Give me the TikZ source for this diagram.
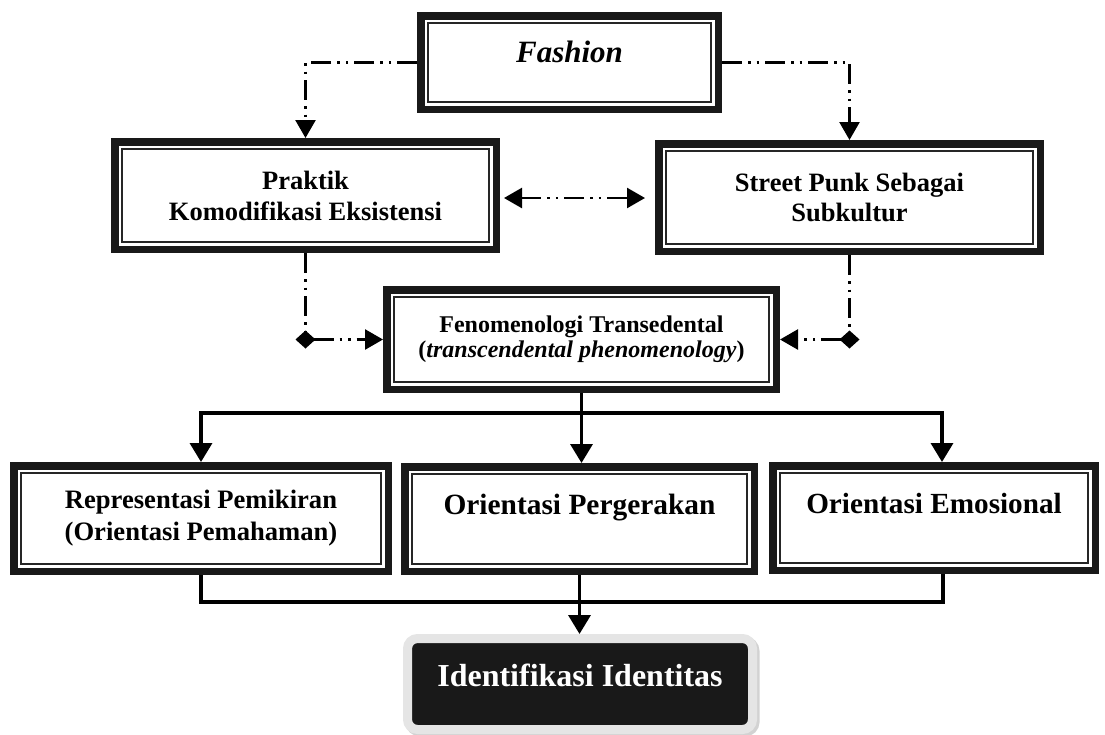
\documentclass[tikz,border=0pt]{standalone}
\usepackage{fontspec}
\setmainfont{Liberation Serif}
\usetikzlibrary{arrows.meta,shadows}

\begin{document}
\begin{tikzpicture}[x=1pt,y=-1pt,
  box/.style={draw=black!90, line width=7.5pt, fill=white, inner sep=2pt, align=center,
    path picture={\draw[line width=2pt,black!85]
      ([shift={(7.25pt,7.25pt)}]path picture bounding box.south west) rectangle
      ([shift={(-7.25pt,-7.25pt)}]path picture bounding box.north east);}},
  dd/.style={line width=2.5pt, dash pattern=on 20pt off 6pt on 2.5pt off 6pt on 2.5pt off 6pt},
  ln/.style={line width=3.5pt},
  ta/.tip={Triangle[width=20pt,length=18pt]},
  tb/.tip={Triangle[width=22pt,length=19pt]},
  dm/.tip={Diamond[width=18pt,length=20pt]}]
\useasboundingbox (0,0) rectangle (1105,734);

\node[box, minimum width=297.5pt, minimum height=93.5pt, text height=21pt, text depth=21pt,
  font=\bfseries\itshape\fontsize{31}{36}\selectfont] (fashion) at (569.5,62.5) {Fashion};
\node[box, minimum width=381.5pt, minimum height=107.5pt,
  font=\bfseries\fontsize{26.5}{31}\selectfont] (praktik) at (305.5,195.5) {Praktik\\Komodifikasi Eksistensi};
\node[box, minimum width=381.5pt, minimum height=107.5pt,
  font=\bfseries\fontsize{26.5}{30}\selectfont] (street) at (849.5,197.5) {Street Punk Sebagai\\Subkultur};
\node[box, minimum width=389.5pt, minimum height=99.5pt,
  font=\bfseries\fontsize{24}{25}\selectfont] (fenom) at (581.5,339.5) {Fenomenologi Transedental\\(\textit{transcendental phenomenology})};
\node[box, minimum width=374.5pt, minimum height=105.5pt,
  font=\bfseries\fontsize{26.6}{32}\selectfont] (repr) at (201,518.5) {Representasi Pemikiran\\(Orientasi Pemahaman)};
\node[box, minimum width=349.5pt, minimum height=104.5pt, text height=20pt, text depth=30pt,
  font=\bfseries\fontsize{29.4}{34}\selectfont] (gerak) at (579.5,519) {Orientasi Pergerakan};
\node[box, minimum width=322.5pt, minimum height=104.5pt, text height=20pt, text depth=30pt,
  font=\bfseries\fontsize{29.2}{34}\selectfont] (emosi) at (934,518) {Orientasi Emosional};
\node[draw=black!10, line width=9pt, fill=black!90, rounded corners=10pt, text=white,
  drop shadow={shadow xshift=2.5pt, shadow yshift=-2.5pt, fill=black!35, draw=black!35, line width=9pt},
  minimum width=345pt, minimum height=91pt, text height=22pt, text depth=18pt,
  font=\bfseries\fontsize{32}{38}\selectfont] (ident) at (580,684) {Identifikasi Identitas};

\coordinate (dl) at (praktik.south |- fenom.west);
\coordinate (dr) at (street.south |- fenom.east);

\draw[dd,-ta] (fashion.west) -| (praktik.north);
\draw[dd,-ta] (fashion.east) -| (street.north);
\draw[dd,ta-ta,shorten <=4pt,shorten >=10pt] ([yshift=-2.5pt]praktik.east) -- ([yshift=-2.5pt]praktik.east -| street.west);
\draw[dd] (praktik.south) -- (dl);
\draw[dd] (street.south) -- (dr);
\draw[dd,dm-ta,shorten <=-10pt] (dl) -- (fenom.west);
\draw[dd,dm-ta,shorten <=-10pt] (dr) -- (fenom.east);

\draw[ln,-tb] (fenom.south) -- (fenom.south |- gerak.north);
\draw[ln,tb-tb] (repr.north) |- ([yshift=-20pt]fenom.south) -| ([xshift=8pt]emosi.north);
\draw[ln] (repr.south) |- ([yshift=-27pt]gerak.south) -| ([xshift=9pt]emosi.south);
\draw[ln,-tb] (gerak.south) -- (gerak.south |- ident.north);
\end{tikzpicture}
\end{document}
